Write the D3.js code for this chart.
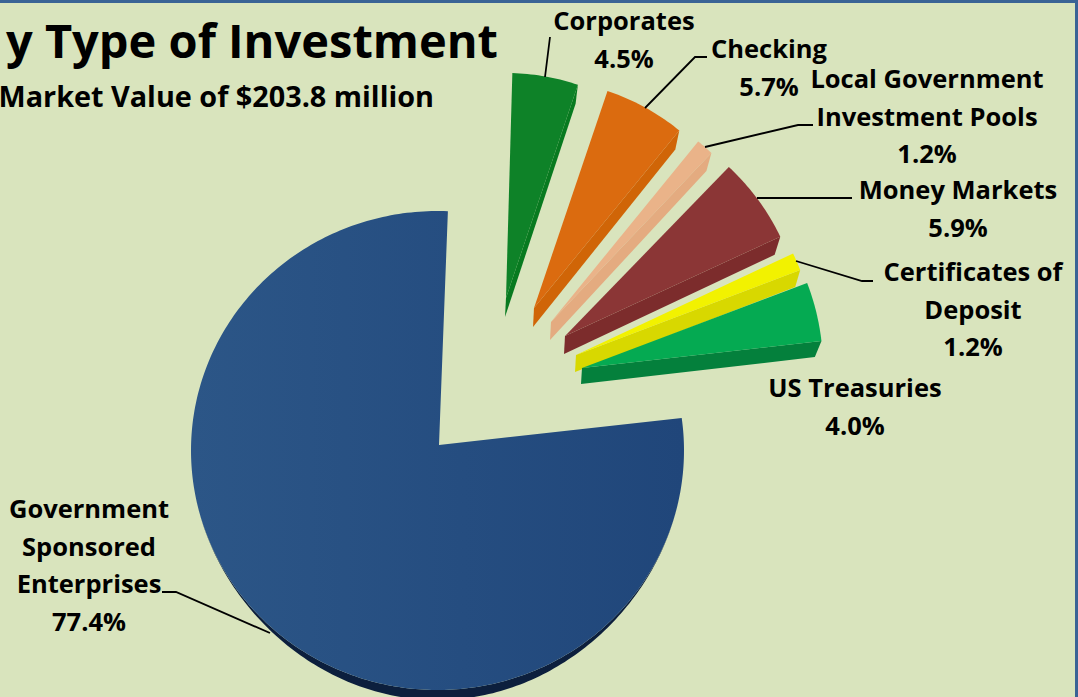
<!DOCTYPE html>
<html>
<head>
<meta charset="utf-8">
<script src="https://cdn.jsdelivr.net/npm/d3@7"></script>
<style>
html,body{margin:0;padding:0;background:#d9e4bd;overflow:hidden}
svg{display:block}
text{font-family:"Open Sans",Lato,sans-serif;font-weight:700;fill:#000}
</style>
</head>
<body>
<svg id="c" width="1078" height="697"></svg>
<script>
// ---- data ----
const categories = ["Government Sponsored Enterprises","Corporates","Checking","Local Government Investment Pools","Money Markets","Certificates of Deposit","US Treasuries"];
const values = [77.4,4.5,5.7,1.2,5.9,1.2,4.0];
const labelLines = [["Government","Sponsored","Enterprises"],["Corporates"],["Checking"],["Local Government","Investment Pools"],["Money Markets"],["Certificates of","Deposit"],["US Treasuries"]];
const titleText = "y Type of Investment";
const subtitleText = "Market Value of $203.8 million";

// ---- style / layout ----
const topColors  = ["#254d80","#0e8228","#db6b0f","#eab389","#8b3636","#f2f200","#05aa52"];
const sideColors = ["#0c1f3d","#087a20","#d06507","#e4ab80","#7c2c2c","#d8d800","#04803c"];
const apex  = [[439,445],[506,298],[534,308],[551,322],[565,336],[576,355],[582,368]];
const radiusX = [246.5,225,230,233,238,240,241];
const radiusY = [239.5,225,229,233,233,238,238];
const arcCentre = [[437.5,450.5],null,null,null,null,null,null];
const startTweak = [-1.3,-0.8,0,0,0,0,0];
const sideShift = [[0,10],[-2.3,19],[-4,19],[-5,18],[-5.6,18],[-5,17],[-6.6,16]];
const labelPos = [[89,518],[624,30],[769,58],[927,88],[958,199],[973,281],[855,397]];
const lineStep = 37.5;
const leaders = [
  [[270,633],[176,592],[162,592]],
  [[545,77],[550,37]],
  [[645,108],[695,57],[707,57]],
  [[705,147],[798,125],[813,125]],
  [[757,198],[852,198]],
  [[796,261],[862,281],[873,281]]
];

const svg = d3.select("#c");
const W = 1078, H = 697;

const defs = svg.append("defs");
const grad = defs.append("linearGradient").attr("id","bigGrad").attr("x1","0").attr("x2","1").attr("y1","0").attr("y2","0");
grad.append("stop").attr("offset","0").attr("stop-color","#2c5687");
grad.append("stop").attr("offset","0.55").attr("stop-color","#254d80");
grad.append("stop").attr("offset","1").attr("stop-color","#20467a");

svg.append("rect").attr("width",W).attr("height",H).attr("fill","#d9e4bd");

// pie layout: clockwise from 83.5 degrees
const startDeg = 83.5;
const toRad = d3.scaleLinear().domain([0,360]).range([0,2*Math.PI]);
const pie = d3.pie().sort(null).startAngle(toRad(startDeg)).endAngle(toRad(startDeg+360));
const arcs = pie(values);

const lineGen = d3.line();

function slicePoints(a,i){
  const c = arcCentre[i] || apex[i];
  const a0 = a.startAngle + toRad(startTweak[i]);
  const steps = Math.max(8, Math.ceil((a.endAngle-a0)*60));
  const t = d3.scaleLinear().domain([0,steps]).range([a0,a.endAngle]);
  return d3.range(steps+1).map(k=>{
    const ang = t(k);
    return {ang, p:[c[0]+radiusX[i]*Math.sin(ang), c[1]-radiusY[i]*Math.cos(ang)]};
  });
}

const g = svg.append("g");
arcs.forEach((a,i)=>{
  const sampled = slicePoints(a,i);
  const pts = sampled.map(d=>d.p);
  const s = sideShift[i];
  if(i===0){
    // thin rim, fading out towards the sides of the big slice
    const lower = sampled.map(d=>{
      const k = Math.pow(Math.max(0,-Math.cos(d.ang)),3);
      return [d.p[0], d.p[1]+s[1]*k];
    });
    g.append("path").attr("d",lineGen(pts.concat(lower.slice().reverse()))+"Z").attr("fill",sideColors[i]);
  } else {
    const last = pts[pts.length-1];
    const A = apex[i];
    g.append("path").attr("d",lineGen([A,last,[last[0]+s[0],last[1]+s[1]],[A[0]-1,A[1]+s[1]]])+"Z").attr("fill",sideColors[i]);
  }
  g.append("path").attr("d",lineGen([apex[i]].concat(pts))+"Z").attr("fill",i===0?"url(#bigGrad)":topColors[i]);
});

svg.append("g").selectAll("path").data(leaders).join("path")
  .attr("d",d=>lineGen(d)).attr("fill","none").attr("stroke","#000").attr("stroke-width",1.8);

const fs = 25.5;
arcs.forEach((a,i)=>{
  const lines = labelLines[i].concat([values[i].toFixed(1)+"%"]);
  const t = svg.append("text").attr("text-anchor","middle").attr("font-size",fs);
  lines.forEach((l,k)=>{
    t.append("tspan").attr("x",labelPos[i][0]).attr("y",labelPos[i][1]+k*lineStep).text(l);
  });
});

svg.append("text").attr("x",498).attr("y",58).attr("text-anchor","end").attr("font-size",47).text(titleText);
svg.append("text").attr("x",434).attr("y",107).attr("text-anchor","end").attr("font-size",28.8).text(subtitleText);

svg.append("rect").attr("x",0).attr("y",0).attr("width",W).attr("height",3).attr("fill","#3a6395");
svg.append("rect").attr("x",W-3).attr("y",0).attr("width",3).attr("height",H).attr("fill","#3a6395");
</script>
</body>
</html>
